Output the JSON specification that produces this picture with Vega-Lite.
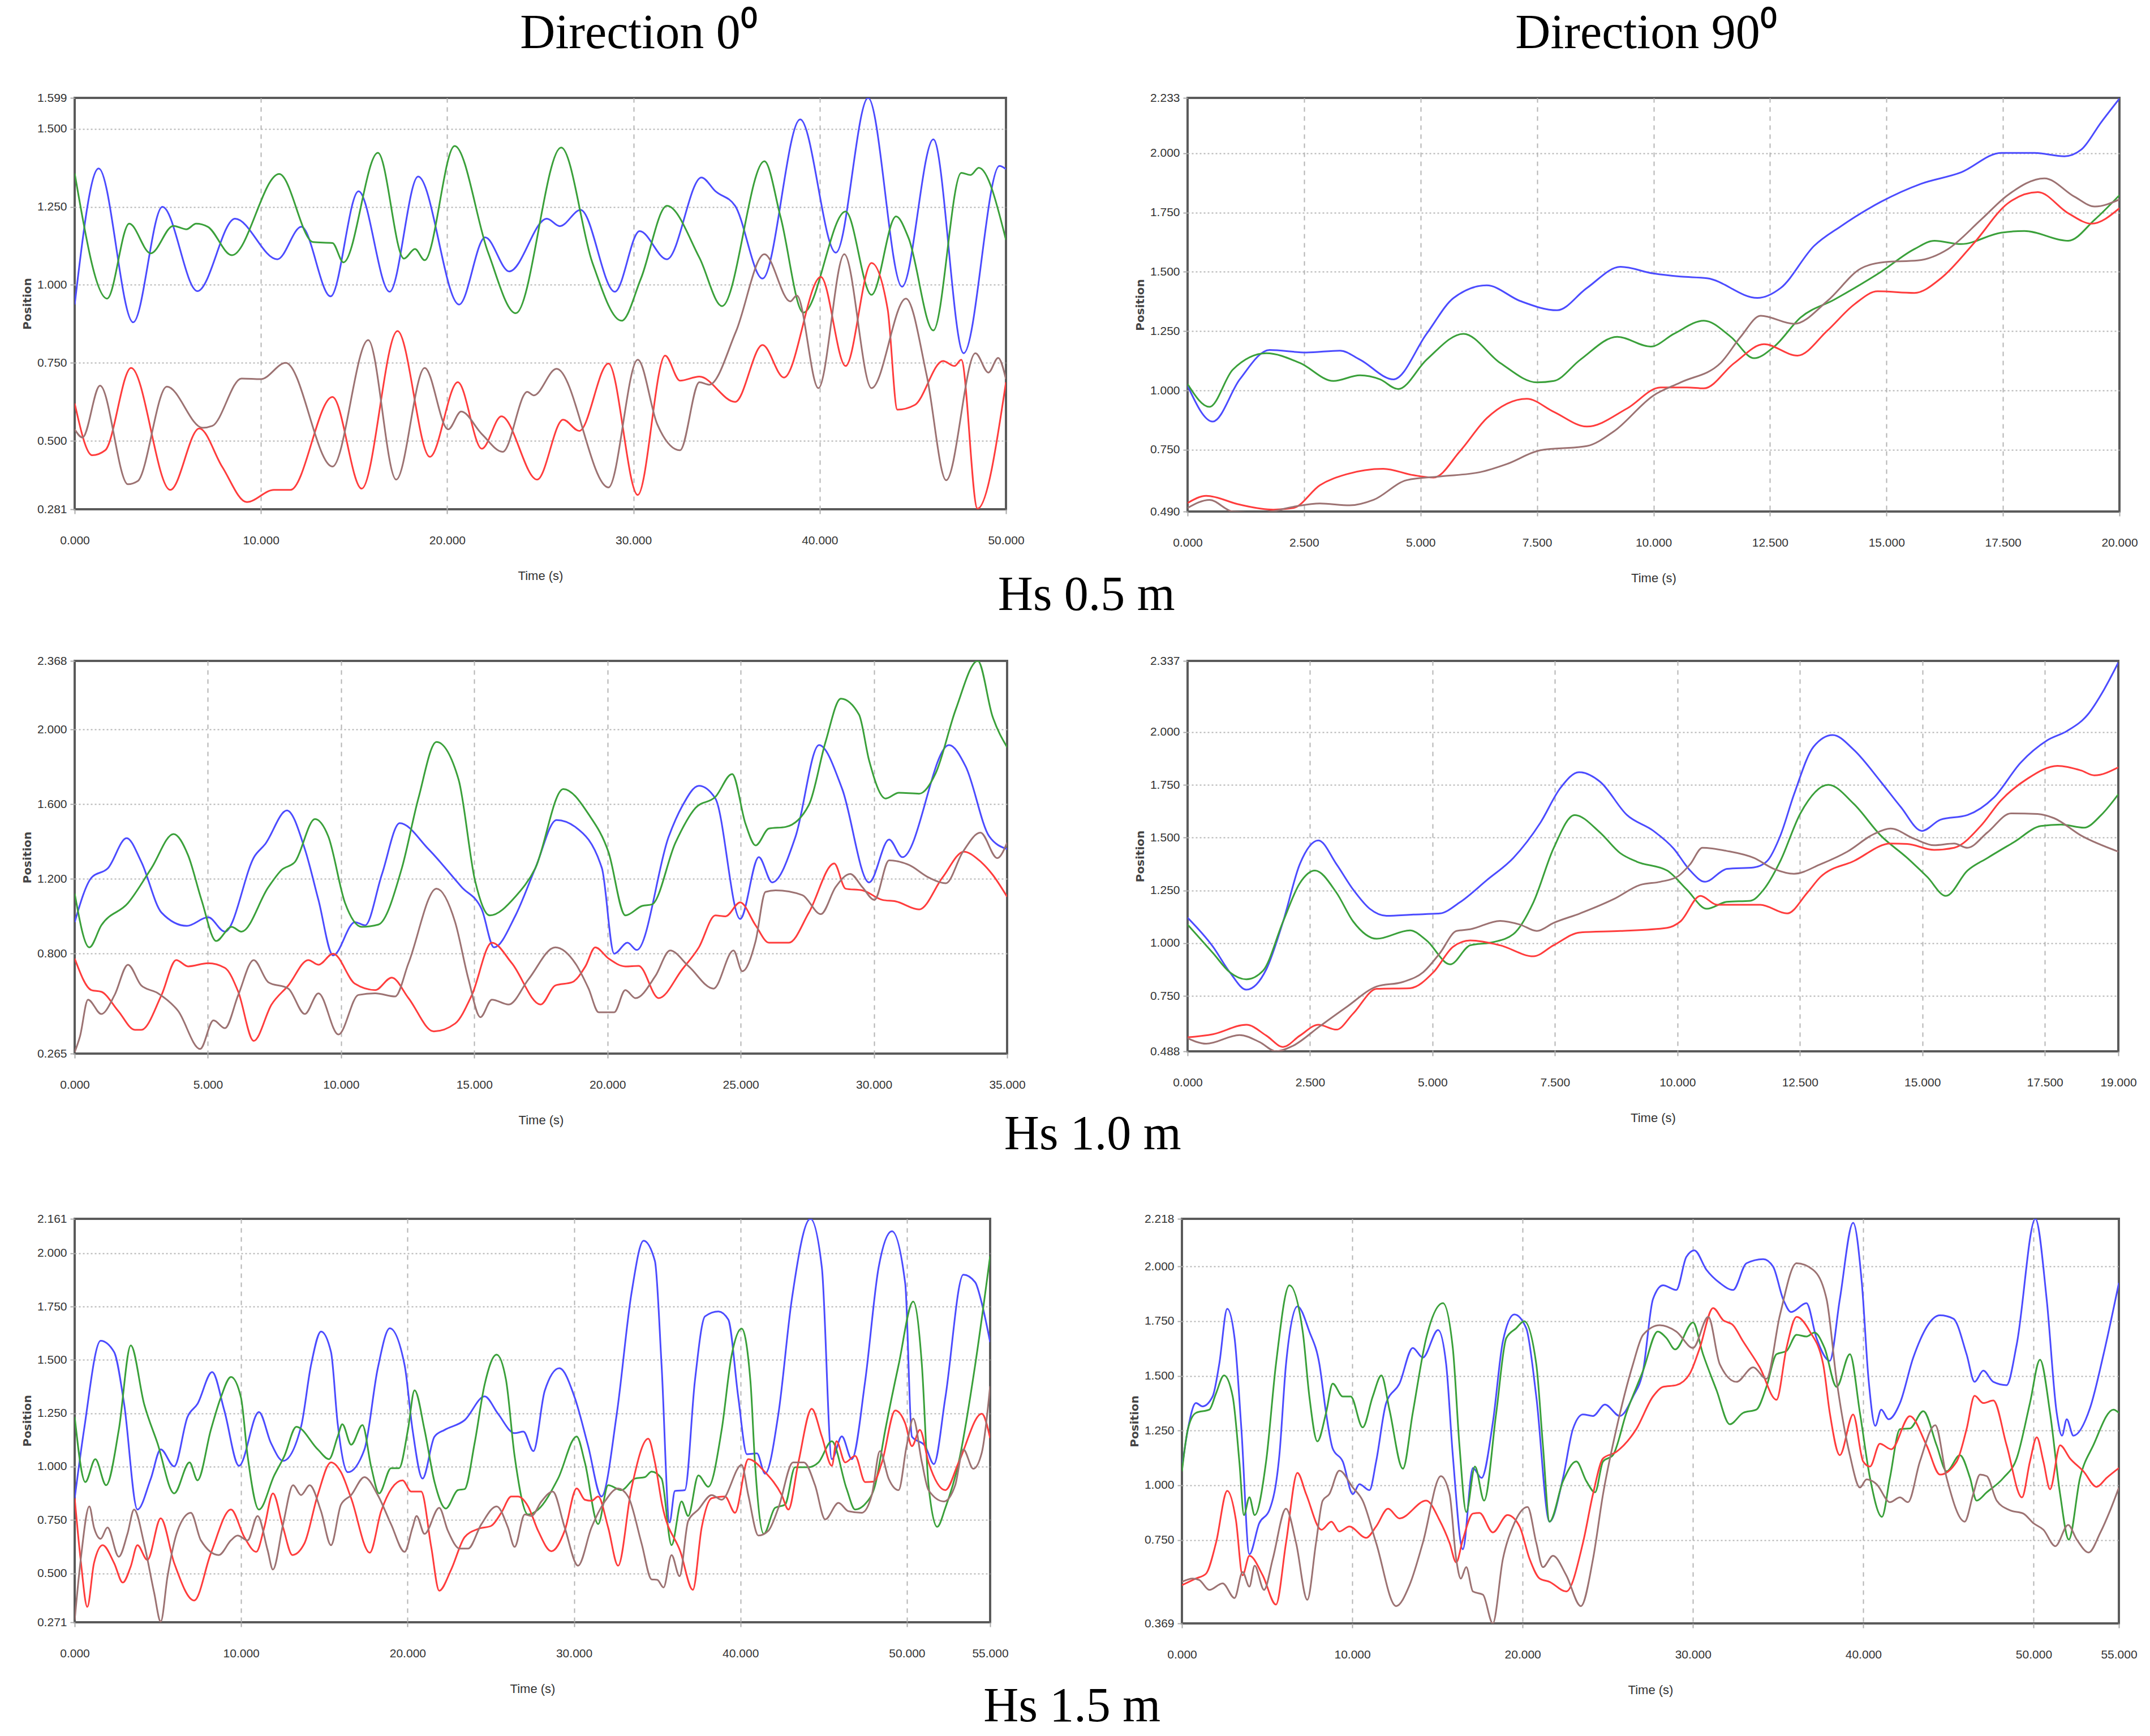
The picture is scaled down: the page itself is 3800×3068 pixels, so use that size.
{
"$schema": "https://vega.github.io/schema/vega-lite/v6.json",
"background": "white",
"padding": {"left": 36, "top": 14, "right": 5, "bottom": 5},
"datasets": {
"p1": [
{"s":"b","t":0,"v":0.937},{"s":"b","t":1.29,"v":1.373},{"s":"b","t":3.14,"v":0.88},{"s":"b","t":4.71,"v":1.25},{"s":"b","t":6.59,"v":0.98},{"s":"b","t":8.61,"v":1.212},{"s":"b","t":10.88,"v":1.082},{"s":"b","t":12.17,"v":1.186},{"s":"b","t":13.74,"v":0.963},{"s":"b","t":15.24,"v":1.3},{"s":"b","t":16.91,"v":0.978},{"s":"b","t":18.44,"v":1.347},{"s":"b","t":20.64,"v":0.937},{"s":"b","t":22.04,"v":1.152},{"s":"b","t":23.33,"v":1.043},{"s":"b","t":25.35,"v":1.212},{"s":"b","t":26.05,"v":1.188},{"s":"b","t":27.16,"v":1.24},{"s":"b","t":29.0,"v":0.978},{"s":"b","t":30.33,"v":1.172},{"s":"b","t":31.8,"v":1.082},{"s":"b","t":33.65,"v":1.344},{"s":"b","t":34.4,"v":1.3},{"s":"b","t":35.46,"v":1.253},{"s":"b","t":36.93,"v":1.02},{"s":"b","t":38.95,"v":1.53},{"s":"b","t":40.87,"v":1.103},{"s":"b","t":42.6,"v":1.599},{"s":"b","t":44.42,"v":0.994},{"s":"b","t":46.1,"v":1.466},{"s":"b","t":47.73,"v":0.781},{"s":"b","t":49.65,"v":1.381},{"s":"b","t":50,"v":1.371},
{"s":"g","t":0,"v":1.357},{"s":"g","t":1.74,"v":0.956},{"s":"g","t":2.93,"v":1.196},{"s":"g","t":4.08,"v":1.101},{"s":"g","t":5.3,"v":1.189},{"s":"g","t":6.0,"v":1.178},{"s":"g","t":6.52,"v":1.196},{"s":"g","t":7.15,"v":1.186},{"s":"g","t":8.44,"v":1.095},{"s":"g","t":10.98,"v":1.355},{"s":"g","t":12.8,"v":1.137},{"s":"g","t":13.84,"v":1.134},{"s":"g","t":14.43,"v":1.072},{"s":"g","t":16.28,"v":1.423},{"s":"g","t":17.68,"v":1.084},{"s":"g","t":18.27,"v":1.115},{"s":"g","t":18.79,"v":1.079},{"s":"g","t":20.4,"v":1.445},{"s":"g","t":22.2,"v":1.103},{"s":"g","t":23.68,"v":0.909},{"s":"g","t":26.12,"v":1.44},{"s":"g","t":27.79,"v":1.072},{"s":"g","t":29.36,"v":0.885},{"s":"g","t":30.4,"v":1.02},{"s":"g","t":31.8,"v":1.253},{"s":"g","t":33.54,"v":1.087},{"s":"g","t":34.76,"v":0.932},{"s":"g","t":37.03,"v":1.396},{"s":"g","t":37.9,"v":1.217},{"s":"g","t":39.12,"v":0.911},{"s":"g","t":41.39,"v":1.235},{"s":"g","t":42.78,"v":0.968},{"s":"g","t":44.1,"v":1.219},{"s":"g","t":44.77,"v":1.15},{"s":"g","t":46.1,"v":0.854},{"s":"g","t":47.6,"v":1.359},{"s":"g","t":48.1,"v":1.352},{"s":"g","t":48.54,"v":1.375},{"s":"g","t":50,"v":1.144},
{"s":"r","t":0,"v":0.62},{"s":"r","t":0.94,"v":0.454},{"s":"r","t":1.64,"v":0.47},{"s":"r","t":3.03,"v":0.734},{"s":"r","t":5.13,"v":0.343},{"s":"r","t":6.69,"v":0.54},{"s":"r","t":7.92,"v":0.417},{"s":"r","t":9.24,"v":0.304},{"s":"r","t":10.7,"v":0.343},{"s":"r","t":11.58,"v":0.343},{"s":"r","t":13.84,"v":0.641},{"s":"r","t":15.41,"v":0.347},{"s":"r","t":17.33,"v":0.852},{"s":"r","t":19.07,"v":0.449},{"s":"r","t":20.57,"v":0.688},{"s":"r","t":21.86,"v":0.475},{"s":"r","t":22.91,"v":0.579},{"s":"r","t":24.83,"v":0.376},{"s":"r","t":26.22,"v":0.568},{"s":"r","t":27.09,"v":0.532},{"s":"r","t":28.66,"v":0.748},{"s":"r","t":30.23,"v":0.327},{"s":"r","t":31.7,"v":0.773},{"s":"r","t":32.5,"v":0.693},{"s":"r","t":33.54,"v":0.706},{"s":"r","t":35.46,"v":0.625},{"s":"r","t":36.93,"v":0.807},{"s":"r","t":38.08,"v":0.703},{"s":"r","t":40.06,"v":1.025},{"s":"r","t":41.39,"v":0.74},{"s":"r","t":42.78,"v":1.07},{"s":"r","t":43.65,"v":0.921},{"s":"r","t":44.17,"v":0.6},{"s":"r","t":45.1,"v":0.615},{"s":"r","t":46.62,"v":0.756},{"s":"r","t":47.24,"v":0.74},{"s":"r","t":47.6,"v":0.76},{"s":"r","t":48.47,"v":0.283},{"s":"r","t":50,"v":0.688},
{"s":"n","t":0,"v":0.537},{"s":"n","t":0.42,"v":0.511},{"s":"n","t":1.36,"v":0.677},{"s":"n","t":2.86,"v":0.361},{"s":"n","t":3.38,"v":0.371},{"s":"n","t":4.95,"v":0.674},{"s":"n","t":6.87,"v":0.542},{"s":"n","t":7.39,"v":0.548},{"s":"n","t":8.96,"v":0.7},{"s":"n","t":10.0,"v":0.698},{"s":"n","t":11.33,"v":0.75},{"s":"n","t":13.84,"v":0.418},{"s":"n","t":15.76,"v":0.823},{"s":"n","t":17.26,"v":0.376},{"s":"n","t":18.79,"v":0.734},{"s":"n","t":20.05,"v":0.537},{"s":"n","t":20.75,"v":0.594},{"s":"n","t":21.86,"v":0.522},{"s":"n","t":22.98,"v":0.465},{"s":"n","t":24.3,"v":0.657},{"s":"n","t":24.65,"v":0.646},{"s":"n","t":25.87,"v":0.731},{"s":"n","t":28.66,"v":0.351},{"s":"n","t":30.23,"v":0.76},{"s":"n","t":31.28,"v":0.553},{"s":"n","t":32.5,"v":0.47},{"s":"n","t":33.54,"v":0.688},{"s":"n","t":34.07,"v":0.68},{"s":"n","t":35.5,"v":0.85},{"s":"n","t":37.03,"v":1.098},{"s":"n","t":38.42,"v":0.947},{"s":"n","t":38.77,"v":0.966},{"s":"n","t":39.93,"v":0.669},{"s":"n","t":41.32,"v":1.098},{"s":"n","t":42.78,"v":0.669},{"s":"n","t":44.63,"v":0.956},{"s":"n","t":45.75,"v":0.708},{"s":"n","t":46.79,"v":0.374},{"s":"n","t":48.36,"v":0.781},{"s":"n","t":49.06,"v":0.719},{"s":"n","t":49.58,"v":0.766},{"s":"n","t":50,"v":0.698}
],
"p2": [
{"s":"b","t":0,"v":1.02},{"s":"b","t":0.54,"v":0.869},{"s":"b","t":1.12,"v":1.047},{"s":"b","t":1.76,"v":1.171},{"s":"b","t":2.55,"v":1.16},{"s":"b","t":3.27,"v":1.168},{"s":"b","t":3.7,"v":1.13},{"s":"b","t":4.42,"v":1.047},{"s":"b","t":5.13,"v":1.239},{"s":"b","t":5.71,"v":1.39},{"s":"b","t":6.42,"v":1.443},{"s":"b","t":7.14,"v":1.377},{"s":"b","t":7.93,"v":1.338},{"s":"b","t":8.57,"v":1.432},{"s":"b","t":9.29,"v":1.521},{"s":"b","t":10.0,"v":1.493},{"s":"b","t":10.58,"v":1.48},{"s":"b","t":11.15,"v":1.473},{"s":"b","t":12.23,"v":1.39},{"s":"b","t":12.73,"v":1.432},{"s":"b","t":13.45,"v":1.61},{"s":"b","t":14.02,"v":1.692},{"s":"b","t":14.88,"v":1.795},{"s":"b","t":15.74,"v":1.871},{"s":"b","t":16.6,"v":1.919},{"s":"b","t":17.46,"v":2.001},{"s":"b","t":18.18,"v":2.001},{"s":"b","t":18.82,"v":1.987},{"s":"b","t":19.18,"v":2.015},{"s":"b","t":19.61,"v":2.131},{"s":"b","t":20,"v":2.23},
{"s":"g","t":0,"v":1.027},{"s":"g","t":0.47,"v":0.931},{"s":"g","t":0.97,"v":1.088},{"s":"g","t":1.69,"v":1.157},{"s":"g","t":2.41,"v":1.116},{"s":"g","t":3.13,"v":1.04},{"s":"g","t":3.7,"v":1.064},{"s":"g","t":4.13,"v":1.047},{"s":"g","t":4.52,"v":1.006},{"s":"g","t":5.13,"v":1.13},{"s":"g","t":5.92,"v":1.239},{"s":"g","t":6.71,"v":1.116},{"s":"g","t":7.5,"v":1.034},{"s":"g","t":7.86,"v":1.04},{"s":"g","t":8.43,"v":1.13},{"s":"g","t":9.22,"v":1.226},{"s":"g","t":9.94,"v":1.185},{"s":"g","t":10.44,"v":1.239},{"s":"g","t":11.08,"v":1.294},{"s":"g","t":11.66,"v":1.226},{"s":"g","t":12.16,"v":1.136},{"s":"g","t":12.59,"v":1.185},{"s":"g","t":13.16,"v":1.308},{"s":"g","t":13.88,"v":1.383},{"s":"g","t":14.88,"v":1.5},{"s":"g","t":15.6,"v":1.596},{"s":"g","t":16.03,"v":1.631},{"s":"g","t":16.6,"v":1.617},{"s":"g","t":17.46,"v":1.665},{"s":"g","t":17.96,"v":1.672},{"s":"g","t":18.9,"v":1.631},{"s":"g","t":19.47,"v":1.72},{"s":"g","t":20,"v":1.823},
{"s":"r","t":0,"v":0.526},{"s":"r","t":0.4,"v":0.556},{"s":"r","t":1.12,"v":0.519},{"s":"r","t":1.84,"v":0.498},{"s":"r","t":2.27,"v":0.505},{"s":"r","t":2.84,"v":0.601},{"s":"r","t":3.41,"v":0.647},{"s":"r","t":4.2,"v":0.67},{"s":"r","t":4.85,"v":0.643},{"s":"r","t":5.28,"v":0.633},{"s":"r","t":5.85,"v":0.745},{"s":"r","t":6.42,"v":0.883},{"s":"r","t":7.28,"v":0.965},{"s":"r","t":7.86,"v":0.91},{"s":"r","t":8.57,"v":0.848},{"s":"r","t":9.43,"v":0.924},{"s":"r","t":10.15,"v":1.013},{"s":"r","t":10.72,"v":1.013},{"s":"r","t":11.08,"v":1.009},{"s":"r","t":11.73,"v":1.115},{"s":"r","t":12.37,"v":1.195},{"s":"r","t":13.09,"v":1.147},{"s":"r","t":13.73,"v":1.252},{"s":"r","t":14.31,"v":1.363},{"s":"r","t":14.81,"v":1.418},{"s":"r","t":15.6,"v":1.411},{"s":"r","t":16.17,"v":1.473},{"s":"r","t":16.89,"v":1.624},{"s":"r","t":17.6,"v":1.788},{"s":"r","t":18.25,"v":1.836},{"s":"r","t":18.9,"v":1.747},{"s":"r","t":19.4,"v":1.703},{"s":"r","t":20,"v":1.768},
{"s":"n","t":0,"v":0.505},{"s":"n","t":0.47,"v":0.539},{"s":"n","t":0.97,"v":0.49},{"s":"n","t":1.6,"v":0.485},{"s":"n","t":2.27,"v":0.51},{"s":"n","t":2.84,"v":0.524},{"s":"n","t":3.48,"v":0.516},{"s":"n","t":3.99,"v":0.539},{"s":"n","t":4.7,"v":0.622},{"s":"n","t":5.42,"v":0.638},{"s":"n","t":6.28,"v":0.656},{"s":"n","t":6.85,"v":0.69},{"s":"n","t":7.57,"v":0.748},{"s":"n","t":8.57,"v":0.766},{"s":"n","t":9.15,"v":0.828},{"s":"n","t":10.0,"v":0.979},{"s":"n","t":10.58,"v":1.034},{"s":"n","t":11.44,"v":1.116},{"s":"n","t":11.87,"v":1.226},{"s":"n","t":12.3,"v":1.315},{"s":"n","t":13.02,"v":1.281},{"s":"n","t":13.73,"v":1.377},{"s":"n","t":14.45,"v":1.514},{"s":"n","t":14.95,"v":1.541},{"s":"n","t":15.67,"v":1.548},{"s":"n","t":16.32,"v":1.596},{"s":"n","t":17.03,"v":1.72},{"s":"n","t":17.6,"v":1.823},{"s":"n","t":18.39,"v":1.894},{"s":"n","t":19.04,"v":1.816},{"s":"n","t":19.47,"v":1.775},{"s":"n","t":20,"v":1.805}
],
"p3": [
{"s":"b","t":0,"v":0.969},{"s":"b","t":0.63,"v":1.207},{"s":"b","t":1.25,"v":1.258},{"s":"b","t":1.95,"v":1.419},{"s":"b","t":2.5,"v":1.292},{"s":"b","t":3.26,"v":1.02},{"s":"b","t":4.21,"v":0.949},{"s":"b","t":5.01,"v":0.995},{"s":"b","t":5.64,"v":0.918},{"s":"b","t":6.77,"v":1.326},{"s":"b","t":7.14,"v":1.385},{"s":"b","t":7.97,"v":1.567},{"s":"b","t":8.64,"v":1.36},{"s":"b","t":9.15,"v":1.088},{"s":"b","t":9.7,"v":0.791},{"s":"b","t":10.52,"v":0.969},{"s":"b","t":10.9,"v":0.952},{"s":"b","t":11.53,"v":1.224},{"s":"b","t":12.2,"v":1.499},{"s":"b","t":13.28,"v":1.36},{"s":"b","t":14.53,"v":1.156},{"s":"b","t":15.28,"v":1.037},{"s":"b","t":15.74,"v":0.834},{"s":"b","t":16.54,"v":1.003},{"s":"b","t":17.29,"v":1.258},{"s":"b","t":18.09,"v":1.516},{"s":"b","t":18.79,"v":1.479},{"s":"b","t":19.79,"v":1.258},{"s":"b","t":20.25,"v":0.8},{"s":"b","t":20.75,"v":0.859},{"s":"b","t":21.1,"v":0.82},{"s":"b","t":22.3,"v":1.428},{"s":"b","t":22.8,"v":1.589},{"s":"b","t":23.43,"v":1.699},{"s":"b","t":24.05,"v":1.631},{"s":"b","t":24.98,"v":0.986},{"s":"b","t":25.68,"v":1.317},{"s":"b","t":26.18,"v":1.182},{"s":"b","t":27.06,"v":1.428},{"s":"b","t":27.94,"v":1.917},{"s":"b","t":28.81,"v":1.682},{"s":"b","t":29.82,"v":1.182},{"s":"b","t":30.57,"v":1.411},{"s":"b","t":31.07,"v":1.317},{"s":"b","t":32.82,"v":1.917},{"s":"b","t":33.45,"v":1.801},{"s":"b","t":34.33,"v":1.428},{"s":"b","t":35,"v":1.36},
{"s":"g","t":0,"v":1.122},{"s":"g","t":0.55,"v":0.834},{"s":"g","t":1.0,"v":0.952},{"s":"g","t":2.0,"v":1.071},{"s":"g","t":2.88,"v":1.258},{"s":"g","t":3.71,"v":1.441},{"s":"g","t":4.26,"v":1.326},{"s":"g","t":4.76,"v":1.088},{"s":"g","t":5.31,"v":0.868},{"s":"g","t":5.89,"v":0.944},{"s":"g","t":6.26,"v":0.918},{"s":"g","t":7.27,"v":1.156},{"s":"g","t":7.77,"v":1.249},{"s":"g","t":8.27,"v":1.292},{"s":"g","t":9.02,"v":1.521},{"s":"g","t":9.52,"v":1.428},{"s":"g","t":10.15,"v":1.071},{"s":"g","t":10.77,"v":0.944},{"s":"g","t":11.4,"v":0.956},{"s":"g","t":12.28,"v":1.258},{"s":"g","t":12.9,"v":1.631},{"s":"g","t":13.58,"v":1.934},{"s":"g","t":14.41,"v":1.733},{"s":"g","t":15.03,"v":1.19},{"s":"g","t":15.58,"v":1.005},{"s":"g","t":16.54,"v":1.105},{"s":"g","t":17.29,"v":1.258},{"s":"g","t":18.34,"v":1.682},{"s":"g","t":19.29,"v":1.547},{"s":"g","t":20.04,"v":1.343},{"s":"g","t":20.67,"v":1.005},{"s":"g","t":21.3,"v":1.056},{"s":"g","t":21.67,"v":1.064},{"s":"g","t":22.55,"v":1.394},{"s":"g","t":23.3,"v":1.58},{"s":"g","t":24.05,"v":1.64},{"s":"g","t":24.68,"v":1.762},{"s":"g","t":25.18,"v":1.496},{"s":"g","t":25.56,"v":1.38},{"s":"g","t":26.06,"v":1.47},{"s":"g","t":26.69,"v":1.479},{"s":"g","t":27.56,"v":1.597},{"s":"g","t":28.19,"v":1.937},{"s":"g","t":28.76,"v":2.166},{"s":"g","t":29.44,"v":2.081},{"s":"g","t":29.82,"v":1.835},{"s":"g","t":30.44,"v":1.631},{"s":"g","t":30.94,"v":1.662},{"s":"g","t":31.7,"v":1.657},{"s":"g","t":32.32,"v":1.767},{"s":"g","t":33.07,"v":2.107},{"s":"g","t":33.9,"v":2.368},{"s":"g","t":34.45,"v":2.072},{"s":"g","t":35,"v":1.906},
{"s":"r","t":0,"v":0.774},{"s":"r","t":0.63,"v":0.605},{"s":"r","t":1.0,"v":0.596},{"s":"r","t":1.63,"v":0.494},{"s":"r","t":2.26,"v":0.392},{"s":"r","t":2.5,"v":0.392},{"s":"r","t":3.26,"v":0.579},{"s":"r","t":3.81,"v":0.766},{"s":"r","t":4.26,"v":0.732},{"s":"r","t":5.01,"v":0.749},{"s":"r","t":5.64,"v":0.724},{"s":"r","t":6.14,"v":0.596},{"s":"r","t":6.72,"v":0.333},{"s":"r","t":7.39,"v":0.528},{"s":"r","t":8.02,"v":0.63},{"s":"r","t":8.77,"v":0.766},{"s":"r","t":9.15,"v":0.741},{"s":"r","t":9.7,"v":0.8},{"s":"r","t":10.52,"v":0.639},{"s":"r","t":11.28,"v":0.605},{"s":"r","t":11.9,"v":0.672},{"s":"r","t":12.53,"v":0.562},{"s":"r","t":13.48,"v":0.384},{"s":"r","t":14.28,"v":0.426},{"s":"r","t":14.91,"v":0.579},{"s":"r","t":15.66,"v":0.859},{"s":"r","t":16.41,"v":0.749},{"s":"r","t":17.49,"v":0.528},{"s":"r","t":18.04,"v":0.63},{"s":"r","t":18.67,"v":0.647},{"s":"r","t":19.17,"v":0.732},{"s":"r","t":19.54,"v":0.834},{"s":"r","t":20.04,"v":0.774},{"s":"r","t":20.67,"v":0.732},{"s":"r","t":21.17,"v":0.735},{"s":"r","t":21.92,"v":0.562},{"s":"r","t":22.8,"v":0.715},{"s":"r","t":23.43,"v":0.834},{"s":"r","t":24.05,"v":1.005},{"s":"r","t":24.43,"v":1.0},{"s":"r","t":24.98,"v":1.075},{"s":"r","t":25.56,"v":0.952},{"s":"r","t":26.06,"v":0.859},{"s":"r","t":26.81,"v":0.859},{"s":"r","t":27.56,"v":1.02},{"s":"r","t":28.51,"v":1.283},{"s":"r","t":28.94,"v":1.148},{"s":"r","t":29.57,"v":1.139},{"s":"r","t":30.32,"v":1.088},{"s":"r","t":30.82,"v":1.08},{"s":"r","t":31.7,"v":1.037},{"s":"r","t":32.57,"v":1.207},{"s":"r","t":33.38,"v":1.346},{"s":"r","t":33.95,"v":1.3},{"s":"r","t":34.45,"v":1.224},{"s":"r","t":35,"v":1.105},
{"s":"n","t":0,"v":0.273},{"s":"n","t":0.2,"v":0.358},{"s":"n","t":0.5,"v":0.554},{"s":"n","t":1.0,"v":0.477},{"s":"n","t":1.5,"v":0.579},{"s":"n","t":2.0,"v":0.741},{"s":"n","t":2.5,"v":0.63},{"s":"n","t":3.13,"v":0.588},{"s":"n","t":3.88,"v":0.494},{"s":"n","t":4.71,"v":0.29},{"s":"n","t":5.21,"v":0.443},{"s":"n","t":5.64,"v":0.401},{"s":"n","t":6.14,"v":0.579},{"s":"n","t":6.72,"v":0.766},{"s":"n","t":7.27,"v":0.647},{"s":"n","t":8.02,"v":0.613},{"s":"n","t":8.64,"v":0.477},{"s":"n","t":9.15,"v":0.588},{"s":"n","t":9.9,"v":0.367},{"s":"n","t":10.65,"v":0.579},{"s":"n","t":11.28,"v":0.588},{"s":"n","t":12.03,"v":0.571},{"s":"n","t":12.53,"v":0.749},{"s":"n","t":13.58,"v":1.148},{"s":"n","t":14.28,"v":0.969},{"s":"n","t":14.78,"v":0.664},{"s":"n","t":15.23,"v":0.46},{"s":"n","t":15.66,"v":0.554},{"s":"n","t":16.29,"v":0.528},{"s":"n","t":17.04,"v":0.664},{"s":"n","t":18.04,"v":0.834},{"s":"n","t":18.79,"v":0.749},{"s":"n","t":19.29,"v":0.613},{"s":"n","t":19.67,"v":0.486},{"s":"n","t":20.25,"v":0.486},{"s":"n","t":20.67,"v":0.605},{"s":"n","t":21.05,"v":0.562},{"s":"n","t":21.8,"v":0.681},{"s":"n","t":22.35,"v":0.817},{"s":"n","t":23.05,"v":0.732},{"s":"n","t":23.98,"v":0.613},{"s":"n","t":24.73,"v":0.817},{"s":"n","t":25.06,"v":0.706},{"s":"n","t":25.56,"v":0.868},{"s":"n","t":25.93,"v":1.131},{"s":"n","t":26.31,"v":1.139},{"s":"n","t":27.31,"v":1.114},{"s":"n","t":28.01,"v":1.012},{"s":"n","t":28.56,"v":1.156},{"s":"n","t":29.11,"v":1.227},{"s":"n","t":29.57,"v":1.156},{"s":"n","t":30.02,"v":1.088},{"s":"n","t":30.57,"v":1.3},{"s":"n","t":31.32,"v":1.275},{"s":"n","t":32.07,"v":1.207},{"s":"n","t":32.7,"v":1.177},{"s":"n","t":33.33,"v":1.343},{"s":"n","t":34.0,"v":1.448},{"s":"n","t":34.63,"v":1.312},{"s":"n","t":35,"v":1.394}
],
"p4": [
{"s":"b","t":0,"v":1.121},{"s":"b","t":0.52,"v":0.983},{"s":"b","t":0.86,"v":0.863},{"s":"b","t":1.2,"v":0.78},{"s":"b","t":1.61,"v":0.878},{"s":"b","t":1.95,"v":1.103},{"s":"b","t":2.29,"v":1.374},{"s":"b","t":2.67,"v":1.487},{"s":"b","t":3.04,"v":1.374},{"s":"b","t":3.38,"v":1.254},{"s":"b","t":3.72,"v":1.163},{"s":"b","t":4.06,"v":1.13},{"s":"b","t":4.61,"v":1.136},{"s":"b","t":5.15,"v":1.141},{"s":"b","t":5.56,"v":1.194},{"s":"b","t":6.11,"v":1.299},{"s":"b","t":6.65,"v":1.404},{"s":"b","t":7.2,"v":1.57},{"s":"b","t":7.61,"v":1.735},{"s":"b","t":7.99,"v":1.81},{"s":"b","t":8.42,"v":1.765},{"s":"b","t":8.97,"v":1.607},{"s":"b","t":9.51,"v":1.532},{"s":"b","t":9.92,"v":1.449},{"s":"b","t":10.26,"v":1.344},{"s":"b","t":10.56,"v":1.291},{"s":"b","t":11.01,"v":1.352},{"s":"b","t":11.56,"v":1.359},{"s":"b","t":11.83,"v":1.389},{"s":"b","t":12.1,"v":1.509},{"s":"b","t":12.38,"v":1.705},{"s":"b","t":12.78,"v":1.931},{"s":"b","t":13.17,"v":1.986},{"s":"b","t":13.6,"v":1.916},{"s":"b","t":14.15,"v":1.765},{"s":"b","t":14.56,"v":1.645},{"s":"b","t":14.99,"v":1.532},{"s":"b","t":15.37,"v":1.585},{"s":"b","t":15.92,"v":1.607},{"s":"b","t":16.46,"v":1.69},{"s":"b","t":17.01,"v":1.856},{"s":"b","t":17.55,"v":1.961},{"s":"b","t":17.96,"v":2.006},{"s":"b","t":18.37,"v":2.081},{"s":"b","t":18.71,"v":2.202},{"s":"b","t":19,"v":2.329},
{"s":"g","t":0,"v":1.088},{"s":"g","t":0.52,"v":0.953},{"s":"g","t":0.86,"v":0.863},{"s":"g","t":1.2,"v":0.829},{"s":"g","t":1.54,"v":0.87},{"s":"g","t":1.95,"v":1.103},{"s":"g","t":2.29,"v":1.284},{"s":"g","t":2.6,"v":1.344},{"s":"g","t":3.04,"v":1.239},{"s":"g","t":3.38,"v":1.103},{"s":"g","t":3.86,"v":1.021},{"s":"g","t":4.54,"v":1.061},{"s":"g","t":4.88,"v":1.013},{"s":"g","t":5.36,"v":0.9},{"s":"g","t":5.77,"v":0.99},{"s":"g","t":6.24,"v":1.005},{"s":"g","t":6.65,"v":1.043},{"s":"g","t":7.06,"v":1.194},{"s":"g","t":7.47,"v":1.449},{"s":"g","t":7.9,"v":1.607},{"s":"g","t":8.42,"v":1.524},{"s":"g","t":8.83,"v":1.427},{"s":"g","t":9.17,"v":1.386},{"s":"g","t":9.79,"v":1.344},{"s":"g","t":10.19,"v":1.254},{"s":"g","t":10.6,"v":1.163},{"s":"g","t":11.01,"v":1.196},{"s":"g","t":11.49,"v":1.201},{"s":"g","t":11.76,"v":1.254},{"s":"g","t":12.1,"v":1.389},{"s":"g","t":12.51,"v":1.615},{"s":"g","t":13.08,"v":1.75},{"s":"g","t":13.6,"v":1.66},{"s":"g","t":14.15,"v":1.51},{"s":"g","t":14.69,"v":1.404},{"s":"g","t":15.1,"v":1.314},{"s":"g","t":15.48,"v":1.224},{"s":"g","t":15.92,"v":1.344},{"s":"g","t":16.33,"v":1.404},{"s":"g","t":16.87,"v":1.479},{"s":"g","t":17.42,"v":1.555},{"s":"g","t":17.83,"v":1.562},{"s":"g","t":18.3,"v":1.547},{"s":"g","t":18.65,"v":1.607},{"s":"g","t":19,"v":1.705},
{"s":"r","t":0,"v":0.554},{"s":"r","t":0.52,"v":0.569},{"s":"r","t":1.2,"v":0.614},{"s":"r","t":1.61,"v":0.562},{"s":"r","t":1.95,"v":0.509},{"s":"r","t":2.29,"v":0.562},{"s":"r","t":2.67,"v":0.614},{"s":"r","t":3.04,"v":0.591},{"s":"r","t":3.38,"v":0.667},{"s":"r","t":3.86,"v":0.784},{"s":"r","t":4.54,"v":0.787},{"s":"r","t":5.02,"v":0.863},{"s":"r","t":5.42,"v":0.983},{"s":"r","t":5.77,"v":1.013},{"s":"r","t":6.38,"v":0.99},{"s":"r","t":7.06,"v":0.938},{"s":"r","t":7.47,"v":0.99},{"s":"r","t":8.01,"v":1.051},{"s":"r","t":8.83,"v":1.058},{"s":"r","t":9.79,"v":1.073},{"s":"r","t":10.06,"v":1.103},{"s":"r","t":10.47,"v":1.224},{"s":"r","t":10.81,"v":1.182},{"s":"r","t":11.69,"v":1.182},{"s":"r","t":12.24,"v":1.141},{"s":"r","t":12.65,"v":1.239},{"s":"r","t":12.92,"v":1.314},{"s":"r","t":13.6,"v":1.389},{"s":"r","t":14.35,"v":1.472},{"s":"r","t":14.69,"v":1.47},{"s":"r","t":15.24,"v":1.442},{"s":"r","t":15.65,"v":1.452},{"s":"r","t":16.19,"v":1.555},{"s":"r","t":16.6,"v":1.675},{"s":"r","t":17.15,"v":1.78},{"s":"r","t":17.76,"v":1.84},{"s":"r","t":18.24,"v":1.818},{"s":"r","t":18.51,"v":1.795},{"s":"r","t":19,"v":1.833},
{"s":"n","t":0,"v":0.55},{"s":"n","t":0.38,"v":0.524},{"s":"n","t":1.06,"v":0.565},{"s":"n","t":1.47,"v":0.532},{"s":"n","t":1.81,"v":0.488},{"s":"n","t":2.15,"v":0.514},{"s":"n","t":2.7,"v":0.607},{"s":"n","t":3.24,"v":0.697},{"s":"n","t":3.86,"v":0.795},{"s":"n","t":4.4,"v":0.817},{"s":"n","t":4.81,"v":0.863},{"s":"n","t":5.15,"v":0.953},{"s":"n","t":5.49,"v":1.058},{"s":"n","t":5.77,"v":1.066},{"s":"n","t":6.38,"v":1.106},{"s":"n","t":6.79,"v":1.088},{"s":"n","t":7.13,"v":1.058},{"s":"n","t":7.47,"v":1.096},{"s":"n","t":8.01,"v":1.141},{"s":"n","t":8.7,"v":1.209},{"s":"n","t":9.24,"v":1.276},{"s":"n","t":9.65,"v":1.291},{"s":"n","t":9.99,"v":1.314},{"s":"n","t":10.26,"v":1.374},{"s":"n","t":10.51,"v":1.452},{"s":"n","t":11.01,"v":1.437},{"s":"n","t":11.56,"v":1.404},{"s":"n","t":11.97,"v":1.352},{"s":"n","t":12.38,"v":1.329},{"s":"n","t":12.92,"v":1.374},{"s":"n","t":13.47,"v":1.434},{"s":"n","t":14.01,"v":1.517},{"s":"n","t":14.35,"v":1.543},{"s":"n","t":14.83,"v":1.495},{"s":"n","t":15.24,"v":1.464},{"s":"n","t":15.65,"v":1.472},{"s":"n","t":15.92,"v":1.452},{"s":"n","t":16.33,"v":1.525},{"s":"n","t":16.81,"v":1.615},{"s":"n","t":17.35,"v":1.612},{"s":"n","t":17.69,"v":1.592},{"s":"n","t":18.24,"v":1.51},{"s":"n","t":19,"v":1.434}
],
"p5": [
{"s":"b","t":0,"v":0.852},{"s":"b","t":0.56,"v":1.172},{"s":"b","t":1.56,"v":1.59},{"s":"b","t":2.37,"v":1.537},{"s":"b","t":2.97,"v":1.294},{"s":"b","t":3.77,"v":0.799},{"s":"b","t":4.57,"v":0.943},{"s":"b","t":5.17,"v":1.081},{"s":"b","t":5.98,"v":1.001},{"s":"b","t":6.78,"v":1.233},{"s":"b","t":7.38,"v":1.294},{"s":"b","t":8.26,"v":1.443},{"s":"b","t":8.99,"v":1.263},{"s":"b","t":9.87,"v":1.004},{"s":"b","t":11.07,"v":1.256},{"s":"b","t":11.79,"v":1.111},{"s":"b","t":12.52,"v":1.027},{"s":"b","t":13.6,"v":1.187},{"s":"b","t":14.2,"v":1.476},{"s":"b","t":14.8,"v":1.633},{"s":"b","t":15.4,"v":1.537},{"s":"b","t":15.8,"v":1.202},{"s":"b","t":16.41,"v":0.974},{"s":"b","t":17.41,"v":1.081},{"s":"b","t":18.21,"v":1.461},{"s":"b","t":18.93,"v":1.648},{"s":"b","t":19.82,"v":1.476},{"s":"b","t":20.3,"v":1.172},{"s":"b","t":20.9,"v":0.944},{"s":"b","t":21.62,"v":1.141},{"s":"b","t":22.22,"v":1.172},{"s":"b","t":23.43,"v":1.218},{"s":"b","t":24.63,"v":1.329},{"s":"b","t":25.43,"v":1.248},{"s":"b","t":26.43,"v":1.157},{"s":"b","t":26.96,"v":1.164},{"s":"b","t":27.56,"v":1.073},{"s":"b","t":28.24,"v":1.355},{"s":"b","t":29.12,"v":1.461},{"s":"b","t":30.04,"v":1.324},{"s":"b","t":30.85,"v":1.096},{"s":"b","t":31.65,"v":0.86},{"s":"b","t":32.57,"v":1.248},{"s":"b","t":33.45,"v":1.811},{"s":"b","t":34.18,"v":2.058},{"s":"b","t":34.86,"v":1.963},{"s":"b","t":35.26,"v":1.476},{"s":"b","t":35.74,"v":0.738},{"s":"b","t":36.06,"v":0.886},{"s":"b","t":36.66,"v":0.89},{"s":"b","t":37.26,"v":1.4},{"s":"b","t":37.87,"v":1.704},{"s":"b","t":38.67,"v":1.727},{"s":"b","t":39.27,"v":1.689},{"s":"b","t":39.87,"v":1.324},{"s":"b","t":40.39,"v":1.058},{"s":"b","t":40.99,"v":1.062},{"s":"b","t":41.48,"v":0.967},{"s":"b","t":42.28,"v":1.248},{"s":"b","t":43.08,"v":1.781},{"s":"b","t":44.2,"v":2.161},{"s":"b","t":44.89,"v":1.933},{"s":"b","t":45.49,"v":1.035},{"s":"b","t":46.09,"v":1.142},{"s":"b","t":46.69,"v":1.035},{"s":"b","t":47.49,"v":1.4},{"s":"b","t":48.3,"v":1.933},{"s":"b","t":49.1,"v":2.103},{"s":"b","t":49.9,"v":1.857},{"s":"b","t":50.3,"v":1.141},{"s":"b","t":51.1,"v":1.096},{"s":"b","t":51.62,"v":1.012},{"s":"b","t":52.31,"v":1.324},{"s":"b","t":53.39,"v":1.899},{"s":"b","t":54.1,"v":1.864},{"s":"b","t":54.5,"v":1.765},{"s":"b","t":55,"v":1.583},
{"s":"g","t":0,"v":1.233},{"s":"g","t":0.64,"v":0.928},{"s":"g","t":1.24,"v":1.035},{"s":"g","t":1.89,"v":0.913},{"s":"g","t":2.65,"v":1.172},{"s":"g","t":3.37,"v":1.568},{"s":"g","t":4.17,"v":1.294},{"s":"g","t":4.97,"v":1.111},{"s":"g","t":5.98,"v":0.875},{"s":"g","t":6.9,"v":1.02},{"s":"g","t":7.38,"v":0.936},{"s":"g","t":8.18,"v":1.172},{"s":"g","t":8.78,"v":1.324},{"s":"g","t":9.39,"v":1.42},{"s":"g","t":9.99,"v":1.324},{"s":"g","t":10.39,"v":1.05},{"s":"g","t":11.07,"v":0.799},{"s":"g","t":11.99,"v":0.959},{"s":"g","t":12.6,"v":1.05},{"s":"g","t":13.32,"v":1.187},{"s":"g","t":14.6,"v":1.081},{"s":"g","t":15.28,"v":1.035},{"s":"g","t":15.8,"v":1.141},{"s":"g","t":16.08,"v":1.199},{"s":"g","t":16.61,"v":1.103},{"s":"g","t":17.29,"v":1.195},{"s":"g","t":17.81,"v":1.0},{"s":"g","t":18.29,"v":0.875},{"s":"g","t":19.01,"v":0.993},{"s":"g","t":19.49,"v":0.993},{"s":"g","t":20.02,"v":1.172},{"s":"g","t":20.42,"v":1.358},{"s":"g","t":21.02,"v":1.172},{"s":"g","t":21.62,"v":0.928},{"s":"g","t":22.3,"v":0.804},{"s":"g","t":23.02,"v":0.89},{"s":"g","t":23.43,"v":0.895},{"s":"g","t":24.03,"v":1.111},{"s":"g","t":24.63,"v":1.385},{"s":"g","t":25.35,"v":1.525},{"s":"g","t":25.91,"v":1.408},{"s":"g","t":26.43,"v":1.05},{"s":"g","t":27.24,"v":0.776},{"s":"g","t":27.84,"v":0.799},{"s":"g","t":29.04,"v":0.944},{"s":"g","t":30.16,"v":1.141},{"s":"g","t":30.65,"v":1.02},{"s":"g","t":31.45,"v":0.731},{"s":"g","t":32.05,"v":0.913},{"s":"g","t":32.85,"v":0.89},{"s":"g","t":33.65,"v":0.944},{"s":"g","t":34.26,"v":0.951},{"s":"g","t":34.66,"v":0.977},{"s":"g","t":35.26,"v":0.944},{"s":"g","t":35.86,"v":0.632},{"s":"g","t":36.46,"v":0.837},{"s":"g","t":36.86,"v":0.769},{"s":"g","t":37.47,"v":0.959},{"s":"g","t":38.07,"v":0.906},{"s":"g","t":38.87,"v":1.172},{"s":"g","t":39.47,"v":1.522},{"s":"g","t":40.07,"v":1.647},{"s":"g","t":40.6,"v":1.4},{"s":"g","t":40.87,"v":1.02},{"s":"g","t":41.4,"v":0.685},{"s":"g","t":42.08,"v":0.807},{"s":"g","t":42.68,"v":0.822},{"s":"g","t":43.28,"v":0.997},{"s":"g","t":44.08,"v":0.997},{"s":"g","t":44.69,"v":1.02},{"s":"g","t":45.49,"v":1.119},{"s":"g","t":46.37,"v":0.898},{"s":"g","t":46.89,"v":0.799},{"s":"g","t":47.49,"v":0.825},{"s":"g","t":48.09,"v":0.913},{"s":"g","t":48.7,"v":1.172},{"s":"g","t":49.5,"v":1.476},{"s":"g","t":50.38,"v":1.773},{"s":"g","t":50.9,"v":1.476},{"s":"g","t":51.3,"v":0.913},{"s":"g","t":51.82,"v":0.718},{"s":"g","t":52.31,"v":0.807},{"s":"g","t":53.11,"v":1.02},{"s":"g","t":54.1,"v":1.476},{"s":"g","t":55,"v":1.986},
{"s":"r","t":0,"v":0.852},{"s":"r","t":0.36,"v":0.563},{"s":"r","t":0.76,"v":0.343},{"s":"r","t":1.16,"v":0.548},{"s":"r","t":1.68,"v":0.632},{"s":"r","t":2.37,"v":0.548},{"s":"r","t":2.89,"v":0.457},{"s":"r","t":3.37,"v":0.533},{"s":"r","t":3.77,"v":0.632},{"s":"r","t":4.37,"v":0.563},{"s":"r","t":5.17,"v":0.758},{"s":"r","t":5.98,"v":0.548},{"s":"r","t":7.18,"v":0.373},{"s":"r","t":8.18,"v":0.594},{"s":"r","t":9.39,"v":0.799},{"s":"r","t":10.19,"v":0.67},{"s":"r","t":10.91,"v":0.601},{"s":"r","t":11.39,"v":0.715},{"s":"r","t":11.91,"v":0.875},{"s":"r","t":12.52,"v":0.715},{"s":"r","t":13.08,"v":0.586},{"s":"r","t":13.8,"v":0.64},{"s":"r","t":14.6,"v":0.867},{"s":"r","t":15.4,"v":1.02},{"s":"r","t":16.0,"v":0.974},{"s":"r","t":16.61,"v":0.852},{"s":"r","t":17.73,"v":0.597},{"s":"r","t":18.41,"v":0.791},{"s":"r","t":19.7,"v":0.936},{"s":"r","t":20.22,"v":0.883},{"s":"r","t":20.82,"v":0.883},{"s":"r","t":21.42,"v":0.624},{"s":"r","t":21.9,"v":0.419},{"s":"r","t":22.62,"v":0.518},{"s":"r","t":23.43,"v":0.67},{"s":"r","t":24.23,"v":0.708},{"s":"r","t":25.03,"v":0.723},{"s":"r","t":25.63,"v":0.784},{"s":"r","t":26.23,"v":0.86},{"s":"r","t":26.63,"v":0.86},{"s":"r","t":27.24,"v":0.814},{"s":"r","t":27.84,"v":0.7},{"s":"r","t":28.64,"v":0.604},{"s":"r","t":29.44,"v":0.7},{"s":"r","t":30.16,"v":0.898},{"s":"r","t":30.65,"v":0.845},{"s":"r","t":31.05,"v":0.84},{"s":"r","t":31.45,"v":0.86},{"s":"r","t":32.05,"v":0.715},{"s":"r","t":32.65,"v":0.536},{"s":"r","t":33.45,"v":0.898},{"s":"r","t":34.46,"v":1.131},{"s":"r","t":34.86,"v":1.02},{"s":"r","t":35.3,"v":0.82},{"s":"r","t":36.4,"v":0.6},{"s":"r","t":37.14,"v":0.423},{"s":"r","t":37.67,"v":0.715},{"s":"r","t":38.27,"v":0.852},{"s":"r","t":39.07,"v":0.86},{"s":"r","t":39.67,"v":0.784},{"s":"r","t":40.47,"v":1.035},{"s":"r","t":41.48,"v":0.974},{"s":"r","t":42.48,"v":0.867},{"s":"r","t":42.88,"v":0.799},{"s":"r","t":43.48,"v":1.02},{"s":"r","t":44.28,"v":1.271},{"s":"r","t":44.89,"v":1.141},{"s":"r","t":45.49,"v":1.004},{"s":"r","t":45.77,"v":1.119},{"s":"r","t":46.29,"v":1.02},{"s":"r","t":46.89,"v":1.05},{"s":"r","t":47.49,"v":0.928},{"s":"r","t":48.0,"v":0.93},{"s":"r","t":48.5,"v":1.02},{"s":"r","t":49.3,"v":1.263},{"s":"r","t":49.9,"v":1.202},{"s":"r","t":50.3,"v":1.096},{"s":"r","t":50.78,"v":1.172},{"s":"r","t":51.3,"v":1.02},{"s":"r","t":52.31,"v":0.89},{"s":"r","t":53.11,"v":1.02},{"s":"r","t":54.5,"v":1.248},{"s":"r","t":55,"v":1.134},
{"s":"n","t":0,"v":0.282},{"s":"n","t":0.36,"v":0.563},{"s":"n","t":0.88,"v":0.814},{"s":"n","t":1.16,"v":0.715},{"s":"n","t":1.56,"v":0.662},{"s":"n","t":1.97,"v":0.715},{"s":"n","t":2.65,"v":0.578},{"s":"n","t":3.17,"v":0.685},{"s":"n","t":3.57,"v":0.799},{"s":"n","t":4.17,"v":0.64},{"s":"n","t":4.77,"v":0.411},{"s":"n","t":5.17,"v":0.274},{"s":"n","t":5.58,"v":0.487},{"s":"n","t":6.18,"v":0.7},{"s":"n","t":6.98,"v":0.784},{"s":"n","t":7.58,"v":0.655},{"s":"n","t":8.66,"v":0.586},{"s":"n","t":9.39,"v":0.655},{"s":"n","t":9.79,"v":0.677},{"s":"n","t":10.39,"v":0.655},{"s":"n","t":10.99,"v":0.769},{"s":"n","t":11.59,"v":0.609},{"s":"n","t":11.91,"v":0.518},{"s":"n","t":12.52,"v":0.73},{"s":"n","t":13.12,"v":0.913},{"s":"n","t":13.6,"v":0.867},{"s":"n","t":14.12,"v":0.913},{"s":"n","t":14.8,"v":0.791},{"s":"n","t":15.4,"v":0.632},{"s":"n","t":16.0,"v":0.822},{"s":"n","t":16.61,"v":0.867},{"s":"n","t":17.41,"v":0.951},{"s":"n","t":18.21,"v":0.867},{"s":"n","t":19.01,"v":0.73},{"s":"n","t":19.82,"v":0.601},{"s":"n","t":20.3,"v":0.715},{"s":"n","t":20.54,"v":0.769},{"s":"n","t":21.02,"v":0.685},{"s":"n","t":21.9,"v":0.807},{"s":"n","t":22.42,"v":0.7},{"s":"n","t":23.14,"v":0.616},{"s":"n","t":23.63,"v":0.616},{"s":"n","t":24.43,"v":0.73},{"s":"n","t":25.35,"v":0.814},{"s":"n","t":26.03,"v":0.715},{"s":"n","t":26.43,"v":0.624},{"s":"n","t":27.04,"v":0.776},{"s":"n","t":27.44,"v":0.769},{"s":"n","t":28.04,"v":0.837},{"s":"n","t":28.72,"v":0.883},{"s":"n","t":29.44,"v":0.715},{"s":"n","t":30.24,"v":0.536},{"s":"n","t":31.05,"v":0.715},{"s":"n","t":31.85,"v":0.837},{"s":"n","t":32.65,"v":0.898},{"s":"n","t":33.25,"v":0.86},{"s":"n","t":34.06,"v":0.64},{"s":"n","t":34.66,"v":0.472},{"s":"n","t":35.0,"v":0.47},{"s":"n","t":35.38,"v":0.434},{"s":"n","t":35.86,"v":0.586},{"s":"n","t":36.34,"v":0.487},{"s":"n","t":36.86,"v":0.746},{"s":"n","t":37.47,"v":0.799},{"s":"n","t":38.27,"v":0.867},{"s":"n","t":38.87,"v":0.845},{"s":"n","t":40.07,"v":1.008},{"s":"n","t":40.47,"v":0.867},{"s":"n","t":41.08,"v":0.677},{"s":"n","t":41.68,"v":0.7},{"s":"n","t":42.28,"v":0.807},{"s":"n","t":43.16,"v":1.02},{"s":"n","t":43.81,"v":1.02},{"s":"n","t":44.48,"v":0.913},{"s":"n","t":45.09,"v":0.753},{"s":"n","t":45.89,"v":0.83},{"s":"n","t":46.49,"v":0.791},{"s":"n","t":47.29,"v":0.784},{"s":"n","t":47.89,"v":0.867},{"s":"n","t":48.38,"v":1.073},{"s":"n","t":48.9,"v":0.944},{"s":"n","t":49.5,"v":0.89},{"s":"n","t":49.98,"v":1.096},{"s":"n","t":50.38,"v":1.225},{"s":"n","t":50.9,"v":1.02},{"s":"n","t":51.3,"v":0.89},{"s":"n","t":52.23,"v":0.837},{"s":"n","t":52.9,"v":0.913},{"s":"n","t":53.39,"v":1.081},{"s":"n","t":53.99,"v":0.99},{"s":"n","t":54.5,"v":1.066},{"s":"n","t":55,"v":1.377}
],
"p6": [
{"s":"b","t":0,"v":1.079},{"s":"b","t":0.35,"v":1.257},{"s":"b","t":0.82,"v":1.376},{"s":"b","t":1.21,"v":1.361},{"s":"b","t":1.8,"v":1.406},{"s":"b","t":2.19,"v":1.554},{"s":"b","t":2.66,"v":1.807},{"s":"b","t":3.09,"v":1.673},{"s":"b","t":3.49,"v":1.257},{"s":"b","t":3.96,"v":0.685},{"s":"b","t":4.54,"v":0.827},{"s":"b","t":5.13,"v":0.886},{"s":"b","t":5.72,"v":1.138},{"s":"b","t":6.11,"v":1.554},{"s":"b","t":6.78,"v":1.818},{"s":"b","t":7.48,"v":1.703},{"s":"b","t":8.07,"v":1.554},{"s":"b","t":8.46,"v":1.331},{"s":"b","t":8.85,"v":1.168},{"s":"b","t":9.44,"v":1.109},{"s":"b","t":10.03,"v":0.96},{"s":"b","t":10.42,"v":1.005},{"s":"b","t":11.01,"v":0.978},{"s":"b","t":11.4,"v":1.109},{"s":"b","t":11.99,"v":1.376},{"s":"b","t":12.77,"v":1.465},{"s":"b","t":13.55,"v":1.628},{"s":"b","t":14.14,"v":1.584},{"s":"b","t":15.04,"v":1.71},{"s":"b","t":15.51,"v":1.554},{"s":"b","t":15.9,"v":1.138},{"s":"b","t":16.49,"v":0.708},{"s":"b","t":17.08,"v":1.079},{"s":"b","t":17.59,"v":1.034},{"s":"b","t":18.25,"v":1.287},{"s":"b","t":18.84,"v":1.658},{"s":"b","t":19.51,"v":1.781},{"s":"b","t":20.21,"v":1.718},{"s":"b","t":20.8,"v":1.406},{"s":"b","t":21.58,"v":0.834},{"s":"b","t":22.37,"v":1.034},{"s":"b","t":22.95,"v":1.257},{"s":"b","t":23.54,"v":1.324},{"s":"b","t":24.13,"v":1.317},{"s":"b","t":24.83,"v":1.369},{"s":"b","t":25.7,"v":1.317},{"s":"b","t":26.48,"v":1.406},{"s":"b","t":27.07,"v":1.524},{"s":"b","t":27.65,"v":1.851},{"s":"b","t":28.24,"v":1.914},{"s":"b","t":29.02,"v":1.893},{"s":"b","t":29.61,"v":2.044},{"s":"b","t":30.08,"v":2.074},{"s":"b","t":30.79,"v":1.985},{"s":"b","t":31.57,"v":1.925},{"s":"b","t":32.35,"v":1.893},{"s":"b","t":33.14,"v":2.015},{"s":"b","t":34.12,"v":2.034},{"s":"b","t":34.7,"v":2.0},{"s":"b","t":35.29,"v":1.851},{"s":"b","t":35.76,"v":1.792},{"s":"b","t":36.66,"v":1.833},{"s":"b","t":37.25,"v":1.673},{"s":"b","t":38.03,"v":1.569},{"s":"b","t":38.62,"v":1.851},{"s":"b","t":39.4,"v":2.2},{"s":"b","t":39.91,"v":1.925},{"s":"b","t":40.31,"v":1.48},{"s":"b","t":40.7,"v":1.272},{"s":"b","t":41.05,"v":1.346},{"s":"b","t":41.48,"v":1.302},{"s":"b","t":42.15,"v":1.376},{"s":"b","t":42.93,"v":1.584},{"s":"b","t":44.5,"v":1.777},{"s":"b","t":45.28,"v":1.762},{"s":"b","t":46.06,"v":1.599},{"s":"b","t":46.53,"v":1.473},{"s":"b","t":47.04,"v":1.524},{"s":"b","t":47.63,"v":1.473},{"s":"b","t":48.41,"v":1.458},{"s":"b","t":49.0,"v":1.643},{"s":"b","t":50.1,"v":2.218},{"s":"b","t":50.76,"v":1.851},{"s":"b","t":51.35,"v":1.331},{"s":"b","t":51.66,"v":1.227},{"s":"b","t":51.94,"v":1.302},{"s":"b","t":52.33,"v":1.227},{"s":"b","t":53.31,"v":1.354},{"s":"b","t":54.1,"v":1.599},{"s":"b","t":55,"v":1.925},
{"s":"g","t":0,"v":1.064},{"s":"g","t":0.35,"v":1.257},{"s":"g","t":0.82,"v":1.331},{"s":"g","t":1.61,"v":1.346},{"s":"g","t":2.0,"v":1.42},{"s":"g","t":2.47,"v":1.502},{"s":"g","t":2.98,"v":1.406},{"s":"g","t":3.37,"v":1.109},{"s":"g","t":3.64,"v":0.864},{"s":"g","t":3.96,"v":0.946},{"s":"g","t":4.27,"v":0.864},{"s":"g","t":4.94,"v":1.109},{"s":"g","t":5.52,"v":1.554},{"s":"g","t":6.31,"v":1.914},{"s":"g","t":7.09,"v":1.703},{"s":"g","t":7.48,"v":1.406},{"s":"g","t":7.95,"v":1.201},{"s":"g","t":8.46,"v":1.331},{"s":"g","t":8.85,"v":1.465},{"s":"g","t":9.44,"v":1.406},{"s":"g","t":9.91,"v":1.406},{"s":"g","t":10.61,"v":1.265},{"s":"g","t":11.2,"v":1.406},{"s":"g","t":11.71,"v":1.502},{"s":"g","t":12.18,"v":1.346},{"s":"g","t":12.97,"v":1.076},{"s":"g","t":13.55,"v":1.331},{"s":"g","t":14.34,"v":1.673},{"s":"g","t":15.32,"v":1.833},{"s":"g","t":15.9,"v":1.628},{"s":"g","t":16.29,"v":1.183},{"s":"g","t":16.69,"v":0.878},{"s":"g","t":17.2,"v":1.086},{"s":"g","t":17.74,"v":0.93},{"s":"g","t":18.45,"v":1.331},{"s":"g","t":19.04,"v":1.673},{"s":"g","t":19.62,"v":1.718},{"s":"g","t":20.09,"v":1.75},{"s":"g","t":20.8,"v":1.554},{"s":"g","t":21.19,"v":1.183},{"s":"g","t":21.58,"v":0.834},{"s":"g","t":22.37,"v":1.019},{"s":"g","t":23.15,"v":1.109},{"s":"g","t":23.74,"v":1.019},{"s":"g","t":24.25,"v":0.968},{"s":"g","t":24.72,"v":1.109},{"s":"g","t":25.3,"v":1.138},{"s":"g","t":26.09,"v":1.331},{"s":"g","t":27.07,"v":1.524},{"s":"g","t":27.93,"v":1.703},{"s":"g","t":28.44,"v":1.673},{"s":"g","t":28.95,"v":1.621},{"s":"g","t":30.0,"v":1.744},{"s":"g","t":30.59,"v":1.599},{"s":"g","t":31.38,"v":1.435},{"s":"g","t":32.16,"v":1.279},{"s":"g","t":32.94,"v":1.331},{"s":"g","t":33.72,"v":1.346},{"s":"g","t":34.31,"v":1.45},{"s":"g","t":34.9,"v":1.599},{"s":"g","t":35.49,"v":1.614},{"s":"g","t":36.08,"v":1.688},{"s":"g","t":36.66,"v":1.68},{"s":"g","t":37.13,"v":1.698},{"s":"g","t":37.72,"v":1.628},{"s":"g","t":38.43,"v":1.45},{"s":"g","t":39.21,"v":1.599},{"s":"g","t":39.8,"v":1.331},{"s":"g","t":40.39,"v":1.034},{"s":"g","t":41.09,"v":0.856},{"s":"g","t":41.56,"v":1.034},{"s":"g","t":42.15,"v":1.257},{"s":"g","t":42.73,"v":1.26},{"s":"g","t":43.52,"v":1.339},{"s":"g","t":44.3,"v":1.183},{"s":"g","t":44.89,"v":1.064},{"s":"g","t":45.67,"v":1.138},{"s":"g","t":46.26,"v":1.034},{"s":"g","t":46.65,"v":0.93},{"s":"g","t":47.24,"v":0.968},{"s":"g","t":48.22,"v":1.034},{"s":"g","t":49.0,"v":1.123},{"s":"g","t":49.78,"v":1.376},{"s":"g","t":50.37,"v":1.574},{"s":"g","t":50.96,"v":1.331},{"s":"g","t":51.55,"v":0.96},{"s":"g","t":52.06,"v":0.752},{"s":"g","t":52.72,"v":1.034},{"s":"g","t":53.5,"v":1.183},{"s":"g","t":54.68,"v":1.346},{"s":"g","t":55,"v":1.331},
{"s":"r","t":0,"v":0.544},{"s":"r","t":0.82,"v":0.574},{"s":"r","t":1.41,"v":0.596},{"s":"r","t":2.0,"v":0.737},{"s":"r","t":2.66,"v":0.975},{"s":"r","t":3.17,"v":0.841},{"s":"r","t":3.56,"v":0.589},{"s":"r","t":3.96,"v":0.678},{"s":"r","t":4.74,"v":0.589},{"s":"r","t":5.52,"v":0.455},{"s":"r","t":6.11,"v":0.737},{"s":"r","t":6.78,"v":1.057},{"s":"r","t":7.29,"v":0.96},{"s":"r","t":8.19,"v":0.797},{"s":"r","t":8.77,"v":0.834},{"s":"r","t":9.24,"v":0.789},{"s":"r","t":9.83,"v":0.812},{"s":"r","t":10.81,"v":0.76},{"s":"r","t":11.4,"v":0.812},{"s":"r","t":12.1,"v":0.893},{"s":"r","t":12.77,"v":0.849},{"s":"r","t":14.34,"v":0.93},{"s":"r","t":15.12,"v":0.841},{"s":"r","t":15.71,"v":0.737},{"s":"r","t":16.1,"v":0.648},{"s":"r","t":16.49,"v":0.752},{"s":"r","t":17.08,"v":0.871},{"s":"r","t":17.47,"v":0.874},{"s":"r","t":18.25,"v":0.785},{"s":"r","t":19.11,"v":0.864},{"s":"r","t":19.82,"v":0.812},{"s":"r","t":20.41,"v":0.663},{"s":"r","t":21.0,"v":0.574},{"s":"r","t":21.58,"v":0.559},{"s":"r","t":22.56,"v":0.515},{"s":"r","t":23.54,"v":0.737},{"s":"r","t":24.13,"v":0.96},{"s":"r","t":24.72,"v":1.123},{"s":"r","t":25.5,"v":1.153},{"s":"r","t":26.67,"v":1.257},{"s":"r","t":27.65,"v":1.406},{"s":"r","t":28.24,"v":1.45},{"s":"r","t":29.02,"v":1.458},{"s":"r","t":29.81,"v":1.51},{"s":"r","t":30.4,"v":1.628},{"s":"r","t":31.18,"v":1.81},{"s":"r","t":31.77,"v":1.755},{"s":"r","t":32.35,"v":1.732},{"s":"r","t":32.94,"v":1.658},{"s":"r","t":33.92,"v":1.539},{"s":"r","t":34.9,"v":1.391},{"s":"r","t":35.49,"v":1.628},{"s":"r","t":36.08,"v":1.77},{"s":"r","t":36.86,"v":1.703},{"s":"r","t":37.64,"v":1.554},{"s":"r","t":38.03,"v":1.331},{"s":"r","t":38.62,"v":1.138},{"s":"r","t":39.4,"v":1.324},{"s":"r","t":39.99,"v":1.109},{"s":"r","t":40.39,"v":1.086},{"s":"r","t":40.97,"v":1.19},{"s":"r","t":41.64,"v":1.165},{"s":"r","t":42.73,"v":1.316},{"s":"r","t":43.71,"v":1.183},{"s":"r","t":44.5,"v":1.049},{"s":"r","t":45.48,"v":1.109},{"s":"r","t":46.06,"v":1.257},{"s":"r","t":46.53,"v":1.409},{"s":"r","t":47.04,"v":1.376},{"s":"r","t":47.63,"v":1.388},{"s":"r","t":48.41,"v":1.183},{"s":"r","t":49.31,"v":0.945},{"s":"r","t":49.78,"v":1.109},{"s":"r","t":50.18,"v":1.22},{"s":"r","t":50.57,"v":1.109},{"s":"r","t":50.96,"v":0.982},{"s":"r","t":51.55,"v":1.183},{"s":"r","t":52.13,"v":1.123},{"s":"r","t":52.92,"v":1.064},{"s":"r","t":53.69,"v":0.993},{"s":"r","t":54.28,"v":1.034},{"s":"r","t":55,"v":1.079},
{"s":"n","t":0,"v":0.559},{"s":"n","t":0.63,"v":0.574},{"s":"n","t":1.02,"v":0.567},{"s":"n","t":1.61,"v":0.522},{"s":"n","t":2.39,"v":0.552},{"s":"n","t":3.09,"v":0.485},{"s":"n","t":3.56,"v":0.604},{"s":"n","t":3.96,"v":0.537},{"s":"n","t":4.27,"v":0.633},{"s":"n","t":4.82,"v":0.522},{"s":"n","t":5.33,"v":0.663},{"s":"n","t":6.11,"v":0.893},{"s":"n","t":6.7,"v":0.737},{"s":"n","t":7.36,"v":0.477},{"s":"n","t":7.87,"v":0.737},{"s":"n","t":8.26,"v":0.93},{"s":"n","t":8.65,"v":0.96},{"s":"n","t":9.24,"v":1.067},{"s":"n","t":10.03,"v":0.99},{"s":"n","t":10.61,"v":0.93},{"s":"n","t":11.4,"v":0.737},{"s":"n","t":12.57,"v":0.448},{"s":"n","t":13.36,"v":0.544},{"s":"n","t":14.14,"v":0.737},{"s":"n","t":15.2,"v":1.042},{"s":"n","t":15.71,"v":0.96},{"s":"n","t":16.1,"v":0.663},{"s":"n","t":16.37,"v":0.574},{"s":"n","t":16.69,"v":0.626},{"s":"n","t":17.08,"v":0.515},{"s":"n","t":17.67,"v":0.5},{"s":"n","t":18.25,"v":0.369},{"s":"n","t":18.84,"v":0.663},{"s":"n","t":19.43,"v":0.812},{"s":"n","t":20.29,"v":0.901},{"s":"n","t":20.8,"v":0.737},{"s":"n","t":21.19,"v":0.626},{"s":"n","t":21.78,"v":0.678},{"s":"n","t":22.56,"v":0.589},{"s":"n","t":23.42,"v":0.448},{"s":"n","t":24.13,"v":0.663},{"s":"n","t":24.72,"v":0.96},{"s":"n","t":25.5,"v":1.257},{"s":"n","t":26.48,"v":1.554},{"s":"n","t":27.07,"v":1.688},{"s":"n","t":28.05,"v":1.732},{"s":"n","t":29.02,"v":1.703},{"s":"n","t":30.0,"v":1.628},{"s":"n","t":30.9,"v":1.77},{"s":"n","t":31.57,"v":1.554},{"s":"n","t":32.55,"v":1.473},{"s":"n","t":33.53,"v":1.539},{"s":"n","t":34.31,"v":1.487},{"s":"n","t":35.1,"v":1.777},{"s":"n","t":36.08,"v":2.015},{"s":"n","t":37.05,"v":1.985},{"s":"n","t":37.84,"v":1.851},{"s":"n","t":38.43,"v":1.48},{"s":"n","t":39.21,"v":1.138},{"s":"n","t":39.8,"v":0.99},{"s":"n","t":40.19,"v":1.027},{"s":"n","t":40.78,"v":1.005},{"s":"n","t":41.56,"v":0.923},{"s":"n","t":42.15,"v":0.945},{"s":"n","t":42.62,"v":0.923},{"s":"n","t":43.32,"v":1.109},{"s":"n","t":44.22,"v":1.275},{"s":"n","t":44.89,"v":1.034},{"s":"n","t":45.95,"v":0.834},{"s":"n","t":46.45,"v":0.96},{"s":"n","t":46.85,"v":1.049},{"s":"n","t":47.24,"v":1.042},{"s":"n","t":47.83,"v":0.93},{"s":"n","t":48.61,"v":0.886},{"s":"n","t":49.39,"v":0.871},{"s":"n","t":49.98,"v":0.827},{"s":"n","t":50.57,"v":0.797},{"s":"n","t":51.27,"v":0.722},{"s":"n","t":52.02,"v":0.819},{"s":"n","t":52.53,"v":0.752},{"s":"n","t":53.23,"v":0.693},{"s":"n","t":53.9,"v":0.782},{"s":"n","t":54.49,"v":0.886},{"s":"n","t":55,"v":0.99}
]
},
"spacing": 60,
"vconcat": [
{
"spacing": 190,
"title": {"text": "Hs 0.5 m", "orient": "bottom", "anchor": "middle", "frame": "bounds", "offset": 44, "dx": 12, "baseline": "alphabetic"},
"hconcat": [
{"data": {"name": "p1"}, "width": 1646, "height": 727,
"title": {"text": "Direction 0⁰", "orient": "top", "anchor": "middle", "frame": "group", "offset": -9, "dx": 174, "baseline": "alphabetic"},
"mark": {"type": "line", "interpolate": "monotone", "strokeWidth": 3, "clip": true},
"encoding": {
"x": {"field": "t", "type": "quantitative", "scale": {"domain": [0, 50], "nice": false, "zero": false}, "axis": {"values": [0, 10, 20, 30, 40, 50], "format": ".3f", "title": "Time (s)"}},
"y": {"field": "v", "type": "quantitative", "scale": {"domain": [0.281, 1.599], "nice": false, "zero": false}, "axis": {"values": [0.281, 0.5, 0.75, 1, 1.25, 1.5, 1.599], "format": ".3f", "title": "Position"}},
"color": {"field": "s", "type": "nominal", "scale": {"domain": ["b", "g", "r", "n"], "range": ["#4b4bff", "#3aa03a", "#ff3c3c", "#9c7272"]}, "legend": null}}},
{"data": {"name": "p2"}, "width": 1647, "height": 731,
"title": {"text": "Direction 90⁰", "orient": "top", "anchor": "middle", "frame": "group", "offset": -9, "dx": -13, "baseline": "alphabetic"},
"mark": {"type": "line", "interpolate": "monotone", "strokeWidth": 3, "clip": true},
"encoding": {
"x": {"field": "t", "type": "quantitative", "scale": {"domain": [0, 20], "nice": false, "zero": false}, "axis": {"values": [0, 2.5, 5, 7.5, 10, 12.5, 15, 17.5, 20], "format": ".3f", "title": "Time (s)"}},
"y": {"field": "v", "type": "quantitative", "scale": {"domain": [0.49, 2.233], "nice": false, "zero": false}, "axis": {"values": [0.49, 0.75, 1, 1.25, 1.5, 1.75, 2, 2.233], "format": ".3f", "title": "Position"}},
"color": {"field": "s", "type": "nominal", "legend": null}}}
]
},
{
"spacing": 93,
"vconcat": [
{
"spacing": 188,
"title": {"text": "Hs 1.0 m", "orient": "bottom", "anchor": "middle", "frame": "bounds", "offset": 39, "dx": 24, "baseline": "alphabetic"},
"hconcat": [
{"data": {"name": "p3"}, "width": 1648, "height": 694,
"mark": {"type": "line", "interpolate": "monotone", "strokeWidth": 3, "clip": true},
"encoding": {
"x": {"field": "t", "type": "quantitative", "scale": {"domain": [0, 35], "nice": false, "zero": false}, "axis": {"values": [0, 5, 10, 15, 20, 25, 30, 35], "format": ".3f", "title": "Time (s)"}},
"y": {"field": "v", "type": "quantitative", "scale": {"domain": [0.265, 2.368], "nice": false, "zero": false}, "axis": {"values": [0.265, 0.8, 1.2, 1.6, 2.0, 2.368], "format": ".3f", "title": "Position"}},
"color": {"field": "s", "type": "nominal", "legend": null}}},
{"data": {"name": "p4"}, "width": 1645, "height": 690,
"mark": {"type": "line", "interpolate": "monotone", "strokeWidth": 3, "clip": true},
"encoding": {
"x": {"field": "t", "type": "quantitative", "scale": {"domain": [0, 19], "nice": false, "zero": false}, "axis": {"values": [0, 2.5, 5, 7.5, 10, 12.5, 15, 17.5, 19], "format": ".3f", "title": "Time (s)"}},
"y": {"field": "v", "type": "quantitative", "scale": {"domain": [0.488, 2.337], "nice": false, "zero": false}, "axis": {"values": [0.488, 0.75, 1, 1.25, 1.5, 1.75, 2, 2.337], "format": ".3f", "title": "Position"}},
"color": {"field": "s", "type": "nominal", "legend": null}}}
]
},
{
"spacing": 208,
"title": {"text": "Hs 1.5 m", "orient": "bottom", "anchor": "middle", "frame": "bounds", "offset": 43, "dx": -13, "baseline": "alphabetic"},
"hconcat": [
{"data": {"name": "p5"}, "width": 1618, "height": 713,
"mark": {"type": "line", "interpolate": "monotone", "strokeWidth": 3, "clip": true},
"encoding": {
"x": {"field": "t", "type": "quantitative", "scale": {"domain": [0, 55], "nice": false, "zero": false}, "axis": {"values": [0, 10, 20, 30, 40, 50, 55], "format": ".3f", "title": "Time (s)"}},
"y": {"field": "v", "type": "quantitative", "scale": {"domain": [0.271, 2.161], "nice": false, "zero": false}, "axis": {"values": [0.271, 0.5, 0.75, 1, 1.25, 1.5, 1.75, 2, 2.161], "format": ".3f", "title": "Position"}},
"color": {"field": "s", "type": "nominal", "legend": null}}},
{"data": {"name": "p6"}, "width": 1656, "height": 715,
"mark": {"type": "line", "interpolate": "monotone", "strokeWidth": 3, "clip": true},
"encoding": {
"x": {"field": "t", "type": "quantitative", "scale": {"domain": [0, 55], "nice": false, "zero": false}, "axis": {"values": [0, 10, 20, 30, 40, 50, 55], "format": ".3f", "title": "Time (s)"}},
"y": {"field": "v", "type": "quantitative", "scale": {"domain": [0.369, 2.218], "nice": false, "zero": false}, "axis": {"values": [0.369, 0.75, 1, 1.25, 1.5, 1.75, 2, 2.218], "format": ".3f", "title": "Position"}},
"color": {"field": "s", "type": "nominal", "legend": null}}}
]
}
]
}
],
"config": {
"view": {"stroke": "#5a5a5a", "strokeWidth": 4},
"title": {"font": "Liberation Serif", "fontSize": 86, "fontWeight": "normal", "color": "#000000"},
"axis": {"labelFont": "Liberation Sans", "labelFontSize": 21, "labelColor": "#333333", "titleFont": "Liberation Sans", "titleFontSize": 22, "titleFontWeight": "normal", "titleColor": "#333333", "tickColor": "#aaaaaa", "tickSize": 8, "tickWidth": 2, "domain": false, "gridColor": "#b4b4b4", "gridWidth": 2, "gridOpacity": {"condition": {"test": "datum.index == 0 || datum.index == 1", "value": 0}, "value": 1}, "labelOverlap": false, "labelFlush": false},
"axisX": {"gridDash": [8, 8], "labelPadding": 36, "titlePadding": 42},
"axisY": {"gridDash": [3, 4], "labelPadding": 6, "titlePadding": 7, "titleFont": "DejaVu Sans", "titleFontWeight": "bold", "titleFontSize": 20, "titleColor": "#444444"}
}
}
